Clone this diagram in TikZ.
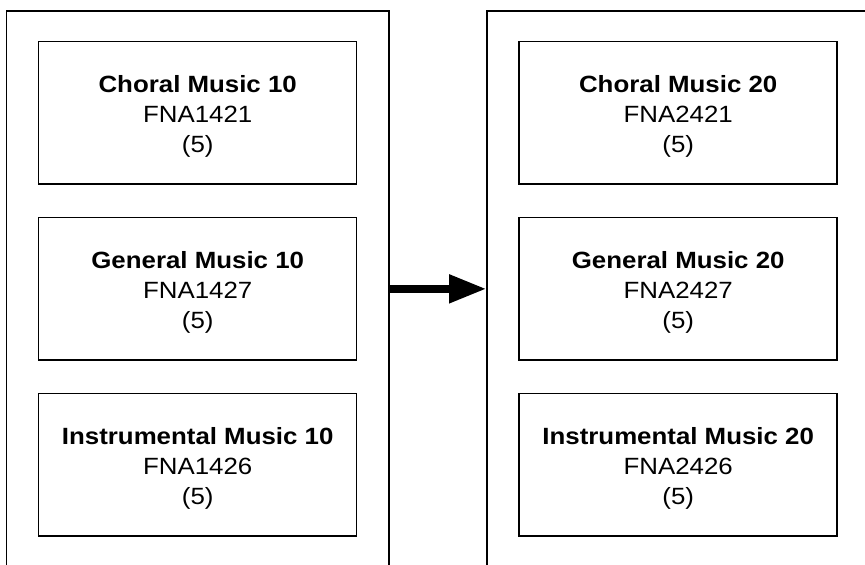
\documentclass[tikz,border=0pt]{standalone}
\usepackage{fontspec}
\setmainfont{Liberation Sans}[FakeStretch=1.1]
\usetikzlibrary{arrows.meta}

\tikzset{
  column/.style={draw, line width=1.5pt, minimum width=382.5pt, minimum height=640pt, inner sep=0pt},
  course/.style={draw, line width=1.5pt, minimum width=318pt, minimum height=142.3pt, inner sep=0pt},
  coursetext/.style={align=center, inner sep=0pt, font=\fontsize{23.5}{29.6}\selectfont},
  flow/.style={line width=7.5pt, -{Triangle[length=37pt,width=27pt]}}
}

\begin{document}
\begin{tikzpicture}[x=1pt,y=-1pt]
  \useasboundingbox (0,0) rectangle (865,565);
  \fill[white] (0,0) rectangle (865,565);

  \begin{scope}
    \clip (0,0) rectangle (865,565);
    % the two year columns, running off the lower edge
    \node[column, anchor=north] (grade10) at (197.75,10) {};
    \node[column, anchor=north] (grade20) at (678.2,10) {};
  \end{scope}

  % grade 10 courses
  \node[course] (c10) at (197.7,112.85) {};
  \node[course] (g10) at (197.7,288.85) {};
  \node[course] (i10) at (197.7,464.85) {};
  \node[coursetext] (c10t) at ([yshift=-3.5pt]c10.center) {\textbf{Choral Music 10}\\FNA1421\\(5)};
  \node[coursetext] (g10t) at ([yshift=-3.5pt]g10.center) {\textbf{General Music 10}\\FNA1427\\(5)};
  \node[coursetext] (i10t) at ([yshift=-3.5pt]i10.center) {\textbf{Instrumental Music 10}\\FNA1426\\(5)};

  % grade 20 courses
  \node[course] (c20) at (678.2,112.85) {};
  \node[course] (g20) at (678.2,288.85) {};
  \node[course] (i20) at (678.2,464.85) {};
  \node[coursetext] (c20t) at ([yshift=-3.5pt]c20.center) {\textbf{Choral Music 20}\\FNA2421\\(5)};
  \node[coursetext] (g20t) at ([yshift=-3.5pt]g20.center) {\textbf{General Music 20}\\FNA2427\\(5)};
  \node[coursetext] (i20t) at ([yshift=-3.5pt]i20.center) {\textbf{Instrumental Music 20}\\FNA2426\\(5)};

  % progression arrow between the columns
  \draw[flow] (grade10.east |- g10.center) -- (grade20.west |- g20.center);
\end{tikzpicture}
\end{document}
